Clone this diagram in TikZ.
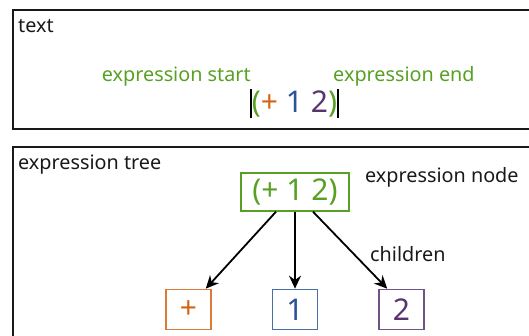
\documentclass[tikz,border=0pt]{standalone}
\usepackage{fontspec}
\setmainfont{Noto Sans}
\usepackage{tikz}
\usepackage{xcolor}
\usetikzlibrary{arrows.meta,positioning}

\definecolor{exprgreen}{RGB}{88,160,36}
\definecolor{oporange}{RGB}{212,100,20}
\definecolor{oneblue}{RGB}{42,84,150}
\definecolor{twopurple}{RGB}{88,52,110}

\newcommand{\smalltxt}{\fontsize{19.8}{23}\selectfont}
\newcommand{\bigtxt}{\fontsize{30}{35}\selectfont}

\begin{document}
\begin{tikzpicture}[
    x=1pt, y=-1pt,
    panel/.style={draw=black!90, line width=1.3pt},
    label/.style={inner sep=0pt, font=\smalltxt, text=black!90},
    note/.style={inner sep=0pt, font=\smalltxt, text=exprgreen},
    exprbox/.style={rectangle, draw=exprgreen, line width=1.4pt, minimum width=108pt, minimum height=38pt, inner sep=0pt, font=\bigtxt, text=exprgreen},
    leaf/.style={rectangle, draw, line width=1.5pt, minimum width=45pt, minimum height=40pt, inner sep=0pt, font=\bigtxt},
    arrow/.style={-{Stealth[length=13pt,width=12pt]}, line width=1.8pt}
]
\useasboundingbox (0,0) rectangle (529,335);
\clip (0,0) rectangle (529,335);

% Panels
\draw[panel] (13,10) rectangle (545,129);
\draw[panel] (13,147) rectangle (545,350);
\node[label, anchor=base west] (textlbl) at (18,32) {text};
\node[label, anchor=base west] (treelbl) at (18,169) {expression tree};

% Source text
\node[inner sep=0.8pt, anchor=base, font=\bigtxt] (src) at (294.5,112)
    {\textcolor{exprgreen}{(}\textcolor{oporange}{+} \textcolor{oneblue}{1} \textcolor{twopurple}{2}\textcolor{exprgreen}{)}};
\draw[line width=1.3pt] (src.north west) -- (src.south west);
\draw[line width=1.3pt] (src.north east) -- (src.south east);
\node[note, anchor=base east] (startlbl) at ([yshift=31pt]src.base west) {expression start};
\node[note, anchor=base west] (endlbl) at ([xshift=-5pt,yshift=31pt]src.base east) {expression end};

% Tree
\node[exprbox] (root) at (295,192) {(+ 1 2)};
\node[leaf, draw=oneblue!85, text=oneblue, below=77pt of root] (one) {1};
\node[leaf, draw=oporange!85, text=oporange, left=60pt of one] (plus) {+};
\node[leaf, draw=twopurple!85, text=twopurple, right=60pt of one] (two) {2};
\node[label, anchor=base west] (nodelbl) at (365,182) {expression node};
\node[label, anchor=base west] (childlbl) at (370,261) {children};

% Connections
\draw[arrow] ([xshift=-19pt]root.south) -- ([xshift=-6pt]plus.north east);
\draw[arrow] (root.south) -- (one.north);
\draw[arrow] ([xshift=18pt]root.south) -- ([xshift=9pt]two.north west);

\end{tikzpicture}
\end{document}
